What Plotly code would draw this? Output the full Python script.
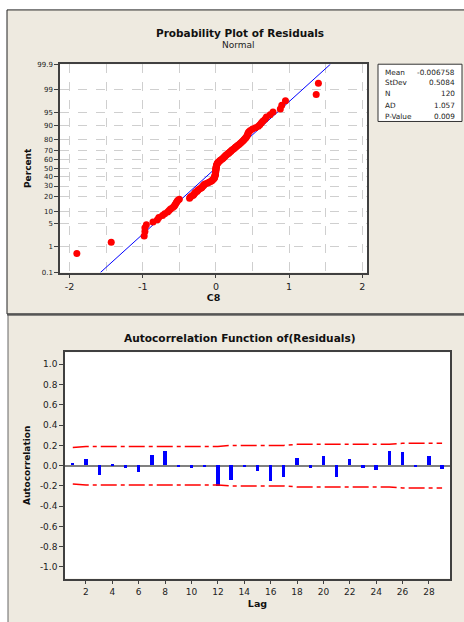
import plotly.graph_objects as go
from statistics import NormalDist

# ---------------- data ----------------
residuals = [
    -1.90, -1.43, -0.98, -0.97, -0.97, -0.95, -0.86, -0.80, -0.78, -0.73,
    -0.70, -0.66, -0.64, -0.62, -0.59, -0.57, -0.56, -0.55, -0.54, -0.53,
    -0.52, -0.50, -0.36, -0.35, -0.33, -0.31, -0.30, -0.29, -0.28, -0.26,
    -0.25, -0.24, -0.22, -0.20, -0.19, -0.18, -0.17, -0.16, -0.15, -0.12,
    -0.10, -0.08, -0.06, -0.05, -0.04, -0.03, -0.02, -0.02, -0.015, -0.012,
    -0.010, -0.008, -0.006, -0.005, -0.004, -0.003, -0.002, -0.001, 0.000, 0.001,
    0.002, 0.003, 0.005, 0.007, 0.010, 0.013, 0.017, 0.022, 0.03, 0.04,
    0.05, 0.06, 0.075, 0.09, 0.10, 0.11, 0.12, 0.13, 0.14, 0.155,
    0.17, 0.18, 0.19, 0.205, 0.215, 0.23, 0.245, 0.26, 0.27, 0.285,
    0.30, 0.315, 0.33, 0.345, 0.36, 0.375, 0.385, 0.40, 0.41, 0.42,
    0.43, 0.435, 0.44, 0.45, 0.47, 0.50, 0.54, 0.58, 0.60, 0.62,
    0.64, 0.67, 0.69, 0.74, 0.78, 0.88, 0.90, 0.95, 1.37, 1.40,
]
fit_mean = -0.006758
fit_stdev = 0.5084
stats_labels = ["Mean", "StDev", "N", "AD", "P-Value"]
stats_values = ["-0.006758", "0.5084", "120", "1.057", "0.009"]
pct_ticks = [0.1, 1, 5, 10, 20, 30, 40, 50, 60, 70, 80, 90, 95, 99, 99.9]
pct_labels = ["0.1", "1", "5", "10", "20", "30", "40", "50", "60", "70", "80", "90", "95", "99", "99.9"]
x1_ticks = [-2, -1, 0, 1, 2]
x1_labels = ["-2", "-1", "0", "1", "2"]

lags = list(range(1, 30))
acf = [0.02, 0.065, -0.097, 0.015, -0.02, -0.068, 0.10, 0.14, -0.013, -0.02,
       -0.01, -0.205, -0.146, -0.013, -0.058, -0.153, -0.117, 0.075, -0.02, 0.09,
       -0.117, 0.065, -0.02, -0.045, 0.146, 0.133, -0.01, 0.097, -0.03]
limits = [0.18] + [0.19] * 11 + [0.20] * 5 + [0.21] * 8 + [0.22] * 4
y2_ticks = [1.0, 0.8, 0.6, 0.4, 0.2, 0.0, -0.2, -0.4, -0.6, -0.8, -1.0]
y2_labels = ["1.0", "0.8", "0.6", "0.4", "0.2", "0.0", "-0.2", "-0.4", "-0.6", "-0.8", "-1.0"]
x2_ticks = list(range(2, 29, 2))

# ---------------- figure ----------------
W, H = 464, 622
nd = NormalDist()
n = len(residuals)
xs = sorted(residuals)
zs = [nd.inv_cdf((i + 1 - 0.3) / (n + 0.4)) for i in range(n)]
zt = [nd.inv_cdf(p / 100) for p in pct_ticks]
zlo, zhi = nd.inv_cdf(0.001), nd.inv_cdf(0.999)

FONT = "DejaVu Sans"
def px(x):
    return x / W
def py(y):
    return 1 - y / H

fig = go.Figure()

# probability plot
fig.add_trace(go.Scatter(
    x=[fit_mean + fit_stdev * zlo, fit_mean + fit_stdev * zhi], y=[zlo, zhi],
    mode="lines", line=dict(color="#0000FF", width=1), xaxis="x", yaxis="y",
    showlegend=False, hoverinfo="skip"))
fig.add_trace(go.Scatter(
    x=xs, y=zs, mode="markers", marker=dict(color="#FF0000", size=7),
    xaxis="x", yaxis="y", showlegend=False))

# ACF
fig.add_trace(go.Bar(x=lags, y=acf, width=0.25, marker=dict(color="#0000FF", line=dict(width=0)),
                     xaxis="x2", yaxis="y2", showlegend=False))
dash = "16px,4px,4px,4px"
fig.add_trace(go.Scatter(x=lags, y=limits, mode="lines",
                         line=dict(color="#FF0000", width=1.5, dash=dash),
                         xaxis="x2", yaxis="y2", showlegend=False))
fig.add_trace(go.Scatter(x=lags, y=[-v for v in limits], mode="lines",
                         line=dict(color="#FF0000", width=1.5, dash=dash),
                         xaxis="x2", yaxis="y2", showlegend=False))

d1x = [px(60), px(367)]
d1y = [py(272), py(61)]
d2x = [px(65), px(450)]
d2y = [py(582), py(352.7)]

shapes = [
    dict(type="rect", xref="paper", yref="paper", x0=px(7), x1=1.02, y0=py(314), y1=py(6),
         fillcolor="#EEEAE0", line=dict(color="#222222", width=1), layer="below"),
    dict(type="rect", xref="paper", yref="paper", x0=px(8), x1=1.02, y0=-0.02, y1=py(315),
         fillcolor="#EEEAE0", line=dict(color="#666666", width=1), layer="below"),
    dict(type="line", xref="paper", yref="paper", x0=px(7), x1=1.0, y0=py(314.5), y1=py(314.5),
         line=dict(color="#555555", width=2), layer="below"),
    dict(type="rect", xref="paper", yref="paper", x0=d1x[0], x1=d1x[1], y0=d1y[0], y1=d1y[1],
         fillcolor="white", line=dict(width=0), layer="below"),
    dict(type="rect", xref="paper", yref="paper", x0=d2x[0], x1=d2x[1], y0=d2y[0], y1=d2y[1],
         fillcolor="white", line=dict(width=0), layer="below"),
    dict(type="rect", xref="paper", yref="paper", x0=px(378), x1=px(462), y0=py(119), y1=py(61),
         fillcolor="white", line=dict(color="#333333", width=1)),
]

annotations = [
    dict(text="<b>Probability Plot of Residuals</b>", x=px(239.5), y=py(29), xref="paper", yref="paper",
         showarrow=False, font=dict(size=10.5, color="#111111", family=FONT), xanchor="center", yanchor="middle"),
    dict(text="Normal", x=px(238.5), y=py(42), xref="paper", yref="paper",
         showarrow=False, font=dict(size=9, color="#222222", family=FONT), xanchor="center", yanchor="middle"),
    dict(text="<b>Autocorrelation Function of(Residuals)</b>", x=px(239.5), y=py(338), xref="paper", yref="paper",
         showarrow=False, font=dict(size=10.6, color="#111111", family=FONT), xanchor="center", yanchor="middle"),
]
row_y = [69, 80, 91, 103, 114]
for lab, val, ry in zip(stats_labels, stats_values, row_y):
    annotations.append(dict(text=lab, x=px(383), y=py(ry), xref="paper", yref="paper", showarrow=False,
                            xanchor="left", yanchor="middle", font=dict(size=7.3, color="#222222", family=FONT)))
    annotations.append(dict(text=val, x=px(457), y=py(ry), xref="paper", yref="paper", showarrow=False,
                            xanchor="right", yanchor="middle", font=dict(size=7.3, color="#222222", family=FONT)))

axis_line = dict(showline=True, linecolor="#404040", linewidth=1.5, mirror=True)
grid = dict(gridcolor="#CFCFCF", gridwidth=1, griddash="dash")

fig.update_layout(
    width=W, height=H, margin=dict(l=0, r=0, t=0, b=0),
    paper_bgcolor="white", plot_bgcolor="white",
    font=dict(family=FONT, color="#222222"),
    shapes=shapes, annotations=annotations, bargap=0,
    xaxis=dict(domain=d1x, anchor="y", range=[-2.13, 2.064], tickvals=x1_ticks, ticktext=x1_labels,
               ticks="outside", ticklen=4, tickcolor="#404040", showgrid=True, **grid,
               minor=dict(dtick=0.5, tick0=0, showgrid=True, **grid, ticks=""),
               zeroline=False, tickfont=dict(size=9.5),
               title=dict(text="<b>C8</b>", font=dict(size=9.5, color="#111111"), standoff=4), **axis_line),
    yaxis=dict(domain=d1y, anchor="x", range=[zlo, zhi], tickvals=zt, ticktext=pct_labels,
               ticks="outside", ticklen=4, tickcolor="#404040", showgrid=True, **grid,
               zeroline=False, tickfont=dict(size=7),
               title=dict(text="<b>Percent</b>", font=dict(size=9, color="#111111"), standoff=4), **axis_line),
    xaxis2=dict(domain=d2x, anchor="y2", range=[0.41, 29.6], tickvals=x2_ticks,
                ticks="outside", ticklen=4, tickcolor="#404040", showgrid=False, zeroline=False,
                tickfont=dict(size=9),
                title=dict(text="<b>Lag</b>", font=dict(size=9.5, color="#111111"), standoff=4), **axis_line),
    yaxis2=dict(domain=d2y, anchor="x2", range=[-1.114, 1.12], tickvals=y2_ticks, ticktext=y2_labels,
                ticks="outside", ticklen=4, tickcolor="#404040", showgrid=False,
                zeroline=True, zerolinecolor="#808080", zerolinewidth=1.5,
                tickfont=dict(size=9),
                title=dict(text="<b>Autocorrelation</b>", font=dict(size=9, color="#111111"), standoff=8), **axis_line),
)

fig.write_html("out.html", config={"displayModeBar": False},
               post_script="document.body.style.margin='0';document.body.style.overflow='hidden';")
